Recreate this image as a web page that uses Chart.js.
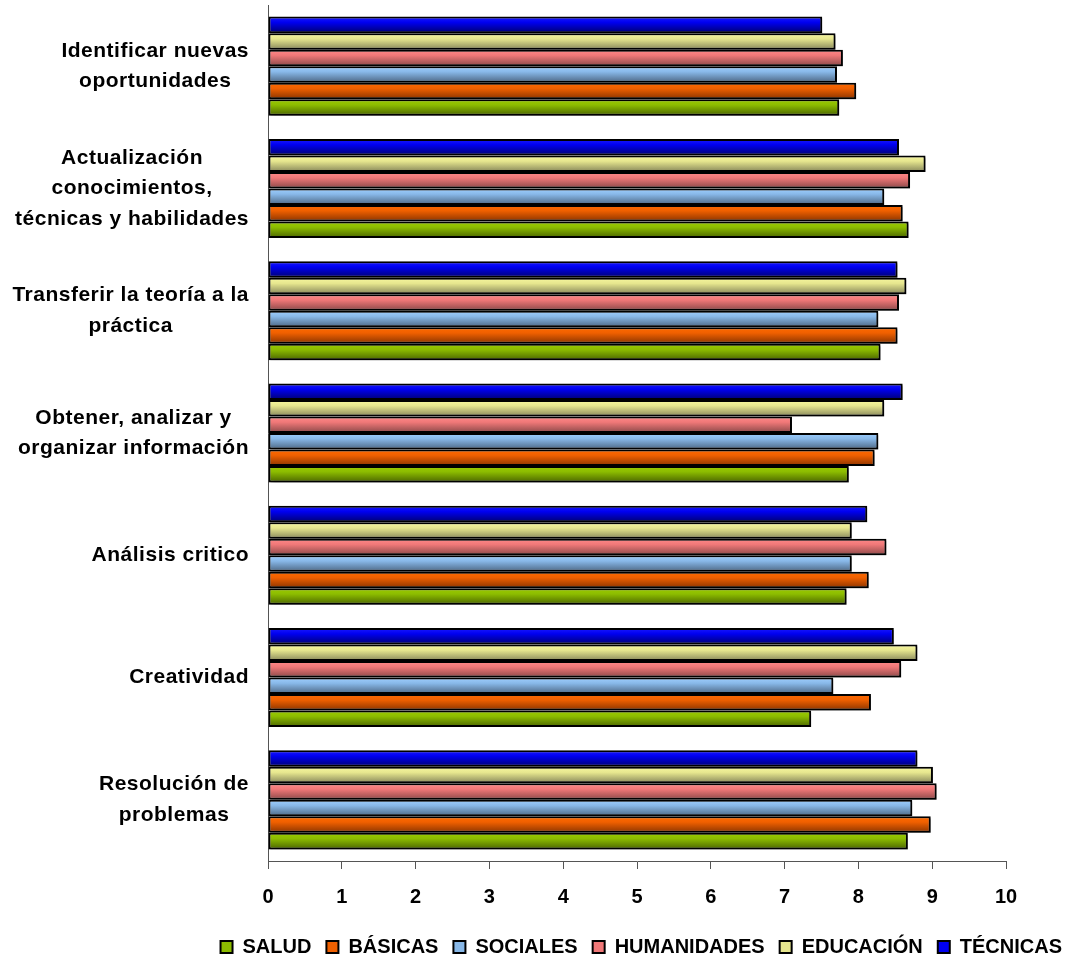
<!DOCTYPE html>
<html lang="es">
<head>
    <meta charset="UTF-8">
    <title>Competencias por área</title>
    <script src="https://cdn.jsdelivr.net/npm/chart.js"></script>
    <style>
        body { margin: 0; background: #fff; }
        #caja { width: 1068px; height: 963px; }
    </style>
</head>
<body>
    <div id="caja"><canvas id="grafico"></canvas></div>

    <script>
        // Categorías (de arriba a abajo)
        const categorias = [
            ['Identificar nuevas', 'oportunidades'],
            ['Actualización', 'conocimientos,', 'técnicas y habilidades'],
            ['Transferir la teoría a la', 'práctica'],
            ['Obtener, analizar y', 'organizar información'],
            ['Análisis critico'],
            ['Creatividad'],
            ['Resolución de', 'problemas']
        ];

        // Valores por área
        const salud       = [7.74, 8.68, 8.30, 7.87, 7.84, 7.36, 8.67];
        const basicas     = [7.97, 8.60, 8.53, 8.22, 8.14, 8.17, 8.98];
        const sociales    = [7.71, 8.35, 8.27, 8.27, 7.91, 7.66, 8.73];
        const humanidades = [7.79, 8.70, 8.55, 7.10, 8.38, 8.58, 9.06];
        const educacion   = [7.69, 8.91, 8.65, 8.35, 7.91, 8.80, 9.01];
        const tecnicas    = [7.51, 8.55, 8.53, 8.60, 8.12, 8.48, 8.80];

        const ticksX = [0, 1, 2, 3, 4, 5, 6, 7, 8, 9, 10];

        // colores: [claro, base, oscuro]
        const colores = {
            'TÉCNICAS':    ['#1a1aff', '#0000f0', '#000070'],
            'EDUCACIÓN':   ['#f8f8a0', '#e6e68e', '#86865a'],
            'HUMANIDADES': ['#ff8a8a', '#f07878', '#8a4848'],
            'SOCIALES':    ['#a0d0ff', '#88b8e8', '#4c6682'],
            'BÁSICAS':     ['#ff6a00', '#f06000', '#8a3400'],
            'SALUD':       ['#9ccc00', '#8cbc00', '#4a6400']
        };

        const series = [
            ['TÉCNICAS', tecnicas],
            ['EDUCACIÓN', educacion],
            ['HUMANIDADES', humanidades],
            ['SOCIALES', sociales],
            ['BÁSICAS', basicas],
            ['SALUD', salud]
        ];

        const fuente = "'Liberation Sans', Arial, sans-serif";

        // degradado vertical en cada barra + sombra
        const pluginBarras = {
            id: 'barras',
            beforeDatasetsDraw(chart) {
                const ctx = chart.ctx;
                chart.data.datasets.forEach((ds, i) => {
                    const meta = chart.getDatasetMeta(i);
                    const c = colores[ds.label];
                    meta.data.forEach(el => {
                        const y0 = el.y - el.height / 2;
                        const g = ctx.createLinearGradient(0, y0, 0, y0 + el.height);
                        g.addColorStop(0, c[0]);
                        g.addColorStop(0.35, c[1]);
                        g.addColorStop(1, c[2]);
                        el.options.backgroundColor = g;
                    });
                });
                ctx.save();
                ctx.shadowColor = 'rgba(0,0,0,0.4)';
                ctx.shadowOffsetX = 2;
                ctx.shadowOffsetY = 2;
                ctx.shadowBlur = 2;
            },
            afterDatasetsDraw(chart) {
                chart.ctx.restore();
            }
        };

        // etiquetas de categoría: bloque alineado a la derecha, líneas centradas
        const pluginEtiquetas = {
            id: 'etiquetas',
            afterDraw(chart) {
                const ctx = chart.ctx;
                const escalaY = chart.scales.y;
                const derecha = 249;
                const alto = 30.5;
                ctx.save();
                ctx.font = 'bold 21px ' + fuente;
                ctx.letterSpacing = '0.5px';
                ctx.fillStyle = '#000';
                ctx.textAlign = 'center';
                ctx.textBaseline = 'middle';
                categorias.forEach((lineas, i) => {
                    const yc = escalaY.getPixelForValue(i);
                    const ancho = Math.max(...lineas.map(t => ctx.measureText(t).width));
                    const xc = derecha - ancho / 2;
                    const y0 = yc - (lineas.length - 1) * alto / 2;
                    lineas.forEach((t, k) => ctx.fillText(t, xc, y0 + k * alto));
                });
                ctx.restore();
            }
        };

        new Chart(document.getElementById('grafico'), {
            type: 'bar',
            data: {
                labels: categorias,
                datasets: series.map(([nombre, valores]) => ({
                    label: nombre,
                    data: valores,
                    backgroundColor: (c) => colores[nombre][1],
                    borderColor: '#000',
                    borderWidth: 2,
                    borderSkipped: false,
                    categoryPercentage: 0.81,
                    barPercentage: 1
                }))
            },
            options: {
                indexAxis: 'y',
                responsive: true,
                maintainAspectRatio: false,
                animation: false,
                layout: { padding: { top: 5, right: -9, bottom: -4, left: 0 } },
                scales: {
                    x: {
                        min: 0,
                        max: 10,
                        afterBuildTicks: (s) => { s.ticks = ticksX.map(v => ({ value: v })); },
                        afterFit: (s) => { s.height = 61; },
                        grid: { drawOnChartArea: false, drawTicks: true, tickLength: 8, color: '#555' },
                        border: { display: true, color: '#555', width: 1 },
                        ticks: {
                            padding: 16,
                            color: '#000',
                            font: { family: fuente, size: 20, weight: 'bold' }
                        }
                    },
                    y: {
                        afterFit: (s) => { s.width = 268; },
                        grid: { display: false },
                        border: { display: true, color: '#555', width: 1 },
                        ticks: { display: false }
                    },
                    // margen derecho vacío
                    margen: {
                        axis: 'y',
                        position: 'right',
                        afterFit: (s) => { s.width = 71; },
                        grid: { display: false },
                        border: { display: false },
                        ticks: { display: false }
                    }
                },
                plugins: {
                    legend: {
                        position: 'bottom',
                        align: 'end',
                        reverse: true,
                        labels: {
                            boxWidth: 12,
                            boxHeight: 12,
                            padding: 15,
                            color: '#000',
                            font: { family: fuente, size: 20, weight: 'bold', lineHeight: 1 }
                        }
                    },
                    tooltip: { enabled: false }
                }
            },
            plugins: [pluginBarras, pluginEtiquetas]
        });
    </script>
</body>
</html>
